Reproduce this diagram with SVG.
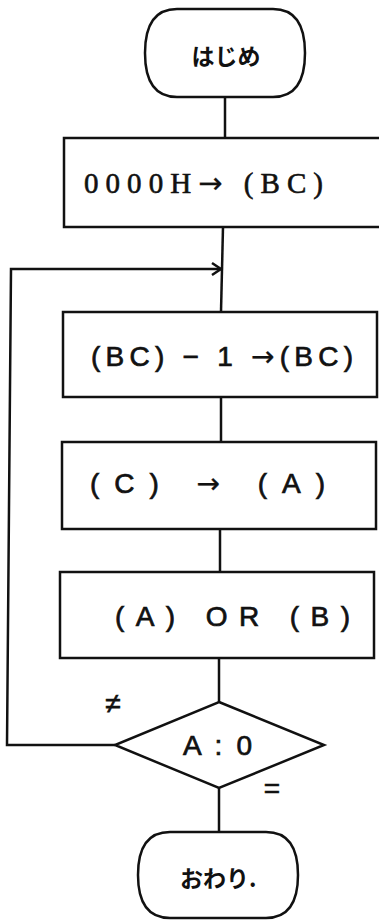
<svg xmlns="http://www.w3.org/2000/svg" width="379" height="920" viewBox="0 0 379 920">
<style>
.s{fill:#fff;stroke:#111;stroke-width:2.5}
.c{fill:none;stroke:#111;stroke-width:2.5}
.t{font-family:"Liberation Sans","Noto Sans CJK JP",sans-serif;font-size:28px;fill:#111;stroke:#111;stroke-width:0.7}
.m{font-family:"Liberation Serif","Noto Sans CJK JP",serif;font-size:29px;fill:#111;stroke:#111;stroke-width:0.6}
.a{font-family:"DejaVu Sans",sans-serif;stroke-width:0.3}
.j{font-family:"Noto Sans CJK JP",sans-serif;font-size:23px;fill:#111;font-weight:bold}
</style>
<rect width="379" height="920" fill="#fff"/>
<g id="connectors">
<line class="c" x1="225" y1="97" x2="225" y2="138"/>
<line class="c" x1="223" y1="227" x2="221" y2="312"/>
<line class="c" x1="221" y1="397" x2="221" y2="442"/>
<line class="c" x1="220" y1="529" x2="220" y2="572"/>
<line class="c" x1="219" y1="658" x2="219" y2="702"/>
<line class="c" x1="219" y1="788" x2="219" y2="832"/>
<polyline class="c" points="115,745 7,745 11,269 221,269"/>
<polyline class="c" points="212,263 221,269 212,275"/>
<text class="t" x="113" y="713" text-anchor="middle">≠</text>
<text class="t" x="272" y="798" text-anchor="middle">=</text>
</g>
<g id="start">
<path class="s" d="M177,9 H273 Q305,9 305,53 Q305,97 273,97 H177 Q145,97 145,53 Q145,9 177,9 Z"/>
<text class="j" x="226" y="65" text-anchor="middle">はじめ</text>
</g>
<g id="init">
<rect class="s" x="64" y="138" width="330" height="89"/>
<text class="m" x="84" y="193" textLength="239" lengthAdjust="spacing">0000H<tspan class="a">→</tspan> (BC)</text>
</g>
<g id="dec">
<rect class="s" x="63" y="312" width="314" height="85"/>
<text class="t" x="91" y="366" textLength="262" lengthAdjust="spacing">(BC) − 1 <tspan class="a">→</tspan>(BC)</text>
</g>
<g id="mov">
<rect class="s" x="62" y="442" width="314" height="87"/>
<text class="t" x="90" y="493" textLength="235" lengthAdjust="spacing">(C)   <tspan class="a">→</tspan>   (A)</text>
</g>
<g id="or">
<rect class="s" x="60" y="572" width="314" height="86"/>
<text class="t" x="115" y="626" textLength="235" lengthAdjust="spacing">(A)  OR  (B)</text>
</g>
<g id="cmp">
<polygon class="s" points="219,702 324,745 219,788 115,745"/>
<text class="t" x="183" y="755" textLength="69" lengthAdjust="spacing">A : 0</text>
</g>
<g id="end">
<path class="s" d="M170,832 H266 Q298,832 298,875 Q298,918 266,918 H170 Q138,918 138,875 Q138,832 170,832 Z"/>
<text class="j" x="180" y="887">おわり.</text>
</g>
</svg>
